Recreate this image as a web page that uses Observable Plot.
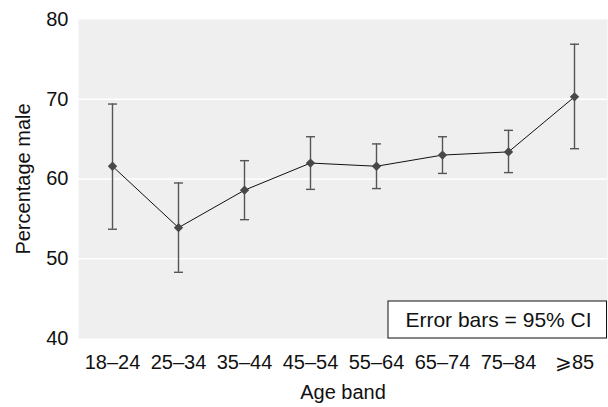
<!DOCTYPE html>
<html><head><meta charset="utf-8">
<script src="https://cdn.jsdelivr.net/npm/d3@7"></script>
<script src="https://cdn.jsdelivr.net/npm/@observablehq/plot@0.6"></script>
<style>body{margin:0;background:#fff;} svg{font-family:"Liberation Sans",Arial,sans-serif;}</style>
</head><body><div id="chart"></div>
<script>
const ageBands = ["18–24","25–34","35–44","45–54","55–64","65–74","75–84","⩾85"];
const percentMale = [61.6, 53.9, 58.6, 62.0, 61.6, 63.0, 63.4, 70.3];
const ciLower = [53.7, 48.3, 54.9, 58.7, 58.8, 60.7, 60.8, 63.8];
const ciUpper = [69.4, 59.5, 62.3, 65.3, 64.4, 65.3, 66.1, 76.9];
const yTicks = [40, 50, 60, 70, 80];
const gridValues = [50, 60, 70];
const xLabel = "Age band";
const yLabel = "Percentage male";
const note = "Error bars = 95% CI";

const data = ageBands.map((band, i) => ({band, pct: percentMale[i], lo: ciLower[i], hi: ciUpper[i]}));
const font = "'Liberation Sans', Arial, sans-serif";
const errColor = "#555";
// horizontal cap symbol for error bars
const capSymbol = {draw(context) { context.moveTo(-4.5, 0); context.lineTo(4.5, 0); }};

const plot = Plot.plot({
  width: 608, height: 407,
  marginLeft: 78, marginRight: 1, marginTop: 19, marginBottom: 69,
  style: {fontFamily: font, fontSize: "20px", color: "#111", background: "#fff"},
  x: {type: "point", domain: ageBands, padding: 0.5, label: null},
  y: {domain: [40, 80], label: null},
  marks: [
    Plot.frame({fill: "#efefef", stroke: "none"}),
    Plot.ruleY(gridValues, {stroke: "#fff", strokeWidth: 1.6}),
    Plot.axisY({ticks: yTicks, tickSize: 0, tickPadding: 10, label: null, fontSize: 20}),
    Plot.axisX({tickSize: 0, tickPadding: 16, label: null, fontSize: 20}),
    Plot.ruleX(data, {x: "band", y1: "lo", y2: "hi", stroke: errColor, strokeWidth: 1.4}),
    Plot.dot(data, {x: "band", y: "lo", symbol: capSymbol, fill: "none", stroke: errColor, strokeWidth: 1.4}),
    Plot.dot(data, {x: "band", y: "hi", symbol: capSymbol, fill: "none", stroke: errColor, strokeWidth: 1.4}),
    Plot.line(data, {x: "band", y: "pct", stroke: "#111", strokeWidth: 1}),
    Plot.dot(data, {x: "band", y: "pct", symbol: "diamond2", r: 4.2, fill: "#484848", stroke: "none"}),
    Plot.text([xLabel], {frameAnchor: "bottom", lineAnchor: "middle", textAnchor: "middle", dy: 54, fontSize: 20, fill: "#111"}),
    Plot.text([yLabel], {frameAnchor: "left", rotate: -90, textAnchor: "middle", lineAnchor: "middle", dx: -55, fontSize: 20, fill: "#111"})
  ]
});

// annotation box in bottom-right corner of the panel
const ys = plot.scale("y");
const panelRight = 608 - 1;
const bottom = ys.apply(40);
const boxW = 219, boxH = 37;
const g = d3.select(plot).append("g");
g.append("rect").attr("x", panelRight - boxW).attr("y", bottom - boxH).attr("width", boxW - 0.5).attr("height", boxH)
  .attr("fill", "#fff").attr("stroke", "#111").attr("stroke-width", 1);
g.append("text").attr("x", panelRight - boxW / 2 + 1).attr("y", bottom - boxH / 2).attr("dy", "0.35em")
  .attr("text-anchor", "middle").attr("font-size", 21).attr("fill", "#111").attr("font-family", font).text(note);

document.getElementById("chart").appendChild(plot);
</script>
</body></html>
